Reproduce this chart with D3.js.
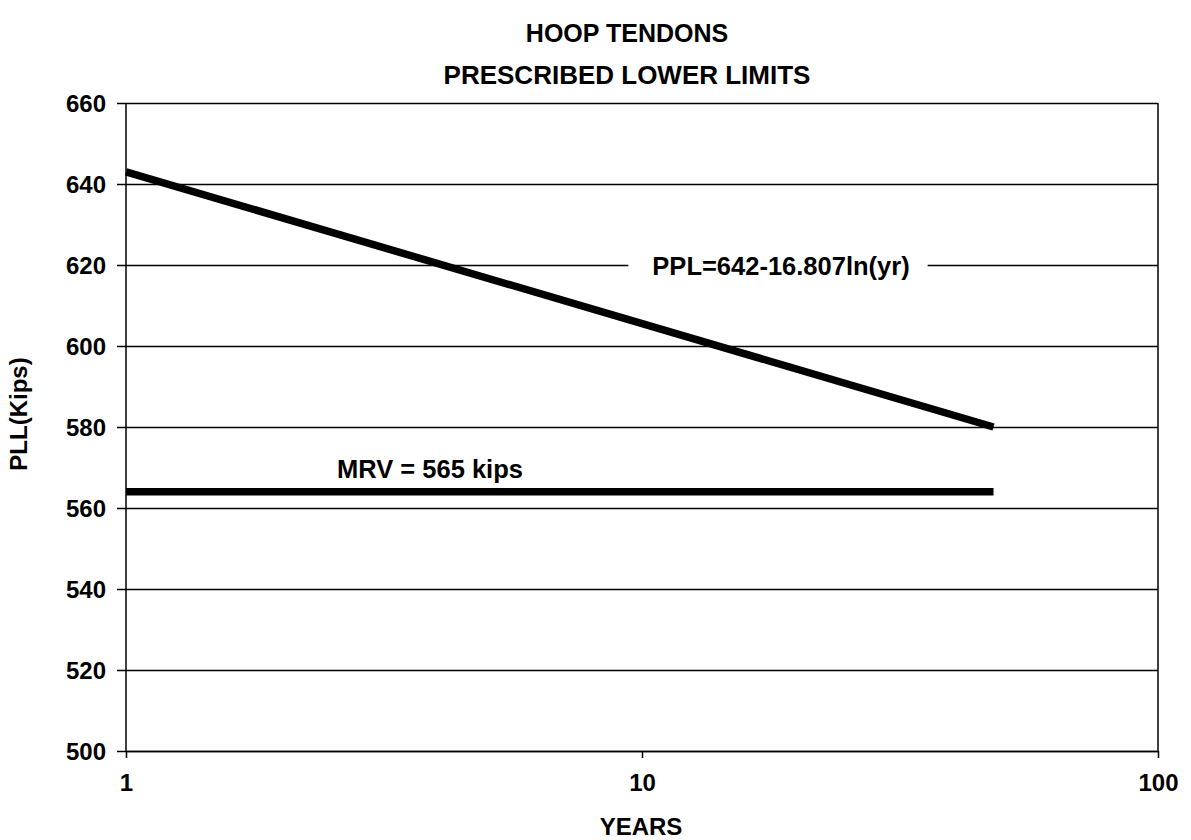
<!DOCTYPE html>
<html>
<head>
<meta charset="utf-8">
<script src="https://cdn.jsdelivr.net/npm/d3@7"></script>
<style>
  body { margin: 0; background: #fff; }
  text { font-family: 'Liberation Sans', Arial, sans-serif; font-weight: bold; fill: #000; }
</style>
</head>
<body>
<script>
// values
let years = [1, 48];
let ppl = [643, 580];
let mrv = [564, 564];
let yTicks = [500, 520, 540, 560, 580, 600, 620, 640, 660];
let xTicks = [1, 10, 100];
let titles = ['HOOP TENDONS', 'PRESCRIBED LOWER LIMITS'];

let W = 1191, H = 840;
let pLeft = 126, pRight = 1158, pTop = 103, pBottom = 751;

let svg = d3.select('body').append('svg').attr('width', W).attr('height', H);

let x = d3.scaleLog().domain([1, 100]).range([pLeft, pRight]);
let y = d3.scaleLinear().domain([500, 660]).range([pBottom, pTop]);

// gridlines + y labels
let gy = svg.append('g')
  .attr('transform', 'translate(' + pLeft + ',0)')
  .call(d3.axisLeft(y).tickValues(yTicks).tickSizeInner(-(pRight - pLeft)).tickSizeOuter(0).tickPadding(20))
  ;
gy.select('.domain').remove();
gy.selectAll('.tick line').attr('x1', -9).attr('stroke', '#000').attr('stroke-width', 1.5);
gy.selectAll('.tick text').style('font-size', '24px').attr('dy', '0.36em');

// left axis line and right border
svg.append('line').attr('x1', pLeft).attr('x2', pLeft).attr('y1', pTop).attr('y2', pBottom)
  .attr('stroke', '#000').attr('stroke-width', 1.5);
svg.append('line').attr('x1', pRight).attr('x2', pRight).attr('y1', pTop).attr('y2', pBottom)
  .attr('stroke', '#000').attr('stroke-width', 1.5);

// x axis
let gx = svg.append('g')
  .attr('transform', 'translate(0,' + pBottom + ')')
  .call(d3.axisBottom(x).tickValues(xTicks).tickFormat(d3.format('d')).tickSizeInner(7).tickSizeOuter(0).tickPadding(16))
  ;
gx.select('.domain').attr('stroke', '#000').attr('stroke-width', 1.5);
gx.selectAll('.tick line').attr('stroke', '#000').attr('stroke-width', 1.5);
gx.selectAll('.tick text').style('font-size', '24px');

// PPL label with white box over the gridline
let lbl = svg.append('text')
  .attr('x', 781).attr('y', y(620) + 1).attr('dy', '0.36em')
  .attr('text-anchor', 'middle')
  .style('font-size', '25.5px')
  .text('PPL=642-16.807ln(yr)');
let bb = lbl.node().getBBox();
svg.append('rect')
  .attr('x', bb.x - 24).attr('y', bb.y).attr('width', bb.width + 42).attr('height', bb.height)
  .attr('fill', '#fff');
lbl.raise();

// the two lines
let line = d3.line().x(d => x(d[0])).y(d => y(d[1]));

svg.append('path')
  .attr('d', line(d3.zip(years, ppl)))
  .attr('fill', 'none').attr('stroke', '#000').attr('stroke-width', 7.5);

svg.append('path')
  .attr('d', line(d3.zip(years, mrv)))
  .attr('fill', 'none').attr('stroke', '#000').attr('stroke-width', 7.5);

svg.append('text')
  .attr('x', 337).attr('y', 478)
  .style('font-size', '25.5px')
  .text('MRV = 565 kips');

// titles
svg.selectAll('text.title')
  .data(titles)
  .enter()
    .append('text')
    .attr('class', 'title')
    .attr('x', 627)
    .attr('y', (d, i) => 42 + i * 42)
    .attr('text-anchor', 'middle')
    .style('font-size', (d, i) => i == 0 ? '25px' : '26px')
    .text(d => d);

svg.append('text')
  .attr('x', 641).attr('y', 835)
  .attr('text-anchor', 'middle')
  .style('font-size', '24px')
  .text('YEARS');

svg.append('text')
  .attr('transform', 'translate(27,414) rotate(-90)')
  .attr('text-anchor', 'middle')
  .style('font-size', '24px')
  .text('PLL(Kips)');
</script>
</body>
</html>
